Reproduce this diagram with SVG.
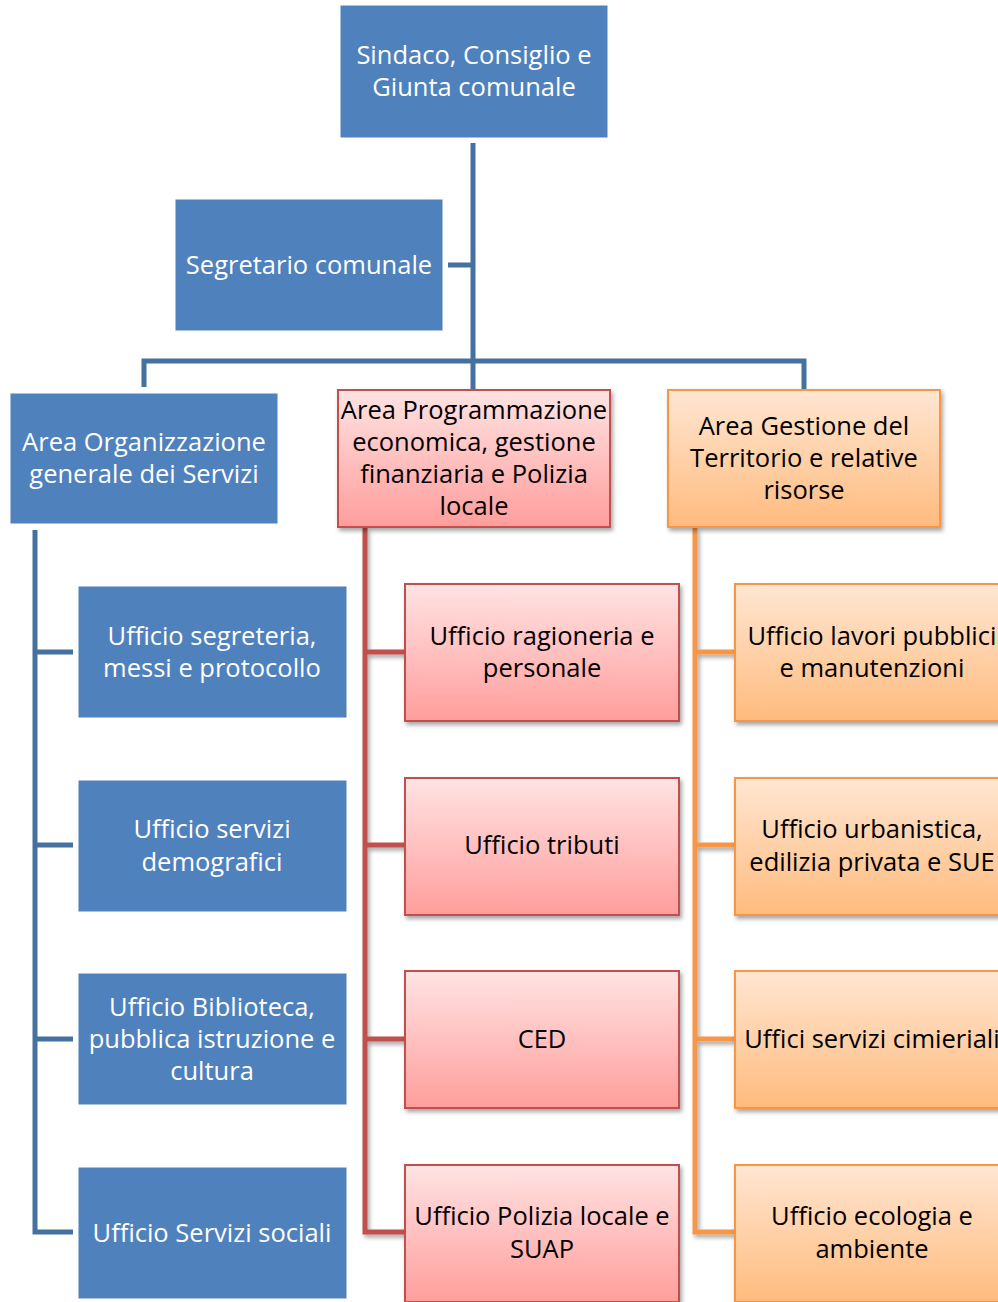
<svg xmlns="http://www.w3.org/2000/svg" width="998" height="1302" viewBox="0 0 998 1302">
<defs>
<linearGradient id="gr" x1="0" y1="0" x2="0" y2="1"><stop offset="0" stop-color="#FFE3E3"/><stop offset="1" stop-color="#FF9E9C"/></linearGradient>
<linearGradient id="go" x1="0" y1="0" x2="0" y2="1"><stop offset="0" stop-color="#FFE6D2"/><stop offset="1" stop-color="#FFBB7E"/></linearGradient>
<filter id="sh" x="-10%" y="-10%" width="125%" height="130%"><feDropShadow dx="2" dy="3" stdDeviation="2" flood-color="#000" flood-opacity="0.35"/></filter>
<style>
.b{fill:#4F81BD;stroke:#4F81BD;stroke-width:1}
.r{fill:url(#gr);stroke:#C0504D;stroke-width:2;filter:url(#sh)}
.o{fill:url(#go);stroke:#F79646;stroke-width:2;filter:url(#sh)}
text{font-family:"Open Sans","Noto Sans","Liberation Sans",sans-serif;font-size:25.5px;text-anchor:middle}
.w{fill:#FFFFFF}
.k{fill:#000000}
.cb{fill:none;stroke:#44719F;stroke-width:5}
.cr{fill:none;stroke:#C0504D;stroke-width:5;filter:url(#sh)}
.co{fill:none;stroke:#F79646;stroke-width:5;filter:url(#sh)}
</style>
</defs>
<g id="connectors">
<path class="cb" d="M473,143 V390 M448,265 H473 M144,387 V361 H804 V390"/>
<path class="cb" d="M35,530 V1232 H73 M35,652 H73 M35,845 H73 M35,1039 H73"/>
<path class="cr" d="M365,528 V1232 H405 M365,652 H405 M365,845 H405 M365,1039 H405"/>
<path class="co" d="M695,528 V1232 H735 M695,652 H735 M695,845 H735 M695,1039 H735"/>
</g>
<g id="n-sindaco"><rect class="b" x="341" y="6" width="266" height="131"/><text class="w" x="474" y="64">Sindaco, Consiglio e</text><text class="w" x="474" y="96">Giunta comunale</text></g>
<g id="n-segretario"><rect class="b" x="176" y="200" width="266" height="130"/><text class="w" x="309" y="274">Segretario comunale</text></g>
<g id="n-area-org"><rect class="b" x="11" y="394" width="266" height="129"/><text class="w" x="144" y="451">Area Organizzazione</text><text class="w" x="144" y="483">generale dei Servizi</text></g>
<g id="n-area-prog"><rect class="r" x="338" y="390" width="272" height="137"/><text class="k" x="474" y="419">Area Programmazione</text><text class="k" x="474" y="451">economica, gestione</text><text class="k" x="474" y="483">finanziaria e Polizia</text><text class="k" x="474" y="515">locale</text></g>
<g id="n-area-gest"><rect class="o" x="668" y="390" width="272" height="137"/><text class="k" x="804" y="435">Area Gestione del</text><text class="k" x="804" y="467">Territorio e relative</text><text class="k" x="804" y="499">risorse</text></g>
<g id="n-segreteria"><rect class="b" x="79" y="587" width="267" height="130"/><text class="w" x="212" y="645">Ufficio segreteria,</text><text class="w" x="212" y="677">messi e protocollo</text></g>
<g id="n-demografici"><rect class="b" x="79" y="781" width="267" height="130"/><text class="w" x="212" y="838">Ufficio servizi</text><text class="w" x="212" y="871">demografici</text></g>
<g id="n-biblioteca"><rect class="b" x="79" y="974" width="267" height="130"/><text class="w" x="212" y="1016">Ufficio Biblioteca,</text><text class="w" x="212" y="1048">pubblica istruzione e</text><text class="w" x="212" y="1080">cultura</text></g>
<g id="n-sociali"><rect class="b" x="79" y="1168" width="267" height="130"/><text class="w" x="212" y="1242">Ufficio Servizi sociali</text></g>
<g id="n-ragioneria"><rect class="r" x="405" y="584" width="274" height="137"/><text class="k" x="542" y="645">Ufficio ragioneria e</text><text class="k" x="542" y="677">personale</text></g>
<g id="n-tributi"><rect class="r" x="405" y="778" width="274" height="137"/><text class="k" x="542" y="854">Ufficio tributi</text></g>
<g id="n-ced"><rect class="r" x="405" y="971" width="274" height="137"/><text class="k" x="542" y="1048">CED</text></g>
<g id="n-polizia"><rect class="r" x="405" y="1165" width="274" height="137"/><text class="k" x="542" y="1225">Ufficio Polizia locale e</text><text class="k" x="542" y="1258">SUAP</text></g>
<g id="n-lavori"><rect class="o" x="735" y="584" width="274" height="137"/><text class="k" x="872" y="645">Ufficio lavori pubblici</text><text class="k" x="872" y="677">e manutenzioni</text></g>
<g id="n-urbanistica"><rect class="o" x="735" y="778" width="274" height="137"/><text class="k" x="872" y="838">Ufficio urbanistica,</text><text class="k" x="872" y="871">edilizia privata e SUE</text></g>
<g id="n-cimiteriali"><rect class="o" x="735" y="971" width="274" height="137"/><text class="k" x="872" y="1048">Uffici servizi cimieriali</text></g>
<g id="n-ecologia"><rect class="o" x="735" y="1165" width="274" height="137"/><text class="k" x="872" y="1225">Ufficio ecologia e</text><text class="k" x="872" y="1258">ambiente</text></g>
</svg>
